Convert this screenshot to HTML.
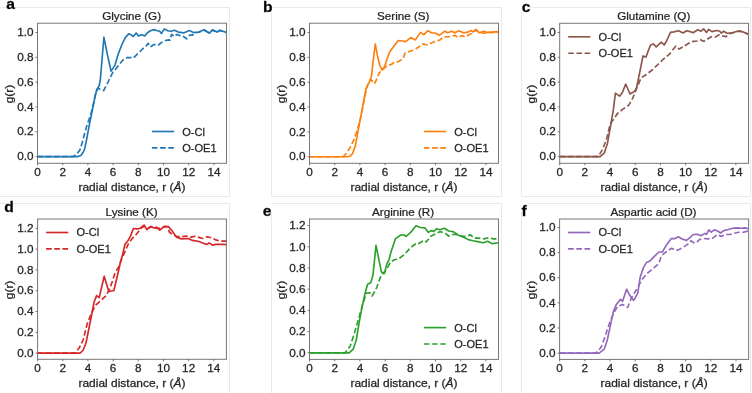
<!DOCTYPE html><html><head><meta charset="utf-8"><style>html,body{margin:0;padding:0;background:#fff;width:752px;height:393px;overflow:hidden}svg{display:block;filter:blur(0.45px)}text{font-family:"Liberation Sans",sans-serif;fill:#262626;stroke:#262626;stroke-width:0.25px}</style></head><body>
<svg width="752" height="393" viewBox="0 0 752 393">
<g fill="none" stroke="#e9e9e9" stroke-width="1">
<path d="M0 7.5H229.5V196.5H0"/>
<path d="M271.5 12V196.5H501.5V7.5H271.5"/>
<path d="M521.5 12V196.5H750.5V7.5H530.5"/>
<path d="M0 203.5H229.5V393"/>
<path d="M271.5 212V393M271.5 203.5H501.5V393"/>
<path d="M521.5 212V393M527.5 203.5H750.5V393"/>
</g>
<g><polyline fill="none" stroke="#1f77b4" stroke-width="1.65" stroke-linejoin="round" points="37.5,156.6 78,156.6 80.9,155.5 83,152.5 84.6,149.2 86.4,140.6 88.2,130.8 90.1,121 91.9,112.4 93.6,104 95.2,96 96.8,89.5 99.1,86 100.3,80 103.9,37.2 107.5,55.1 111,71.1 115,65.1 118.4,53.6 121.9,44.5 125.3,37.6 128.7,33.9 131,34.7 133.3,36.5 136.2,33 138.5,35.9 141.3,34.7 144.8,35.9 147.1,33 150.5,30.7 153.9,29.6 157.4,30.7 159.7,31.3 161.4,33.6 164.2,29 167.7,30.7 171.1,31.3 174.5,30.2 178.3,32.1 183.6,32.9 189.3,30.6 193.5,32.5 198.8,32.1 204.1,29.8 209.4,33.2 212.5,29.8 217,32.1 220,30.2 226.5,32.5"/><polyline fill="none" stroke="#1f77b4" stroke-width="1.65" stroke-dasharray="5.6 2.6" stroke-linejoin="round" points="37.5,156.6 73,156.6 76,154.7 79.7,150.4 82.1,143 84,135.7 86.4,127.1 88.9,119.8 91.3,112.4 93.3,104 95.2,95 97.9,88.3 100.5,89.5 103.7,90.6 108.3,81.5 112.8,72.3 115,70 119.6,63.9 123.6,59.4 127.6,57.6 130.5,57.5 133.3,58.2 137.3,54.2 142.5,49 145.9,46.2 148.2,43.3 150.5,46.8 153.9,44.5 158.5,45 162,42.2 165.4,40.5 168.8,39.9 170,40.1 171.5,34.4 174.5,36.6 176.8,34.4 180.6,35.9 182.9,35.9 186.7,38.9 189.7,35.1 192.7,35.1 194.3,32.9 198.8,32.3 204.1,30.2 209.4,32.8 212.5,30.2 217,32.1 220,30.5 226.5,32.5"/><rect x="37.5" y="23.2" width="189" height="140.1" fill="none" stroke="#777" stroke-width="1"/><path d="M37.5 163.3v2M62.7 163.3v2M87.9 163.3v2M113.1 163.3v2M138.3 163.3v2M163.5 163.3v2M188.7 163.3v2M213.9 163.3v2M37.5 156.6h-2M37.5 131.78h-2M37.5 106.96h-2M37.5 82.14h-2M37.5 57.32h-2M37.5 32.5h-2" stroke="#555" stroke-width="0.8" fill="none"/><text transform="translate(37.5 175.6) scale(1.13 1)" font-size="10.4" text-anchor="middle">0</text><text transform="translate(62.7 175.6) scale(1.13 1)" font-size="10.4" text-anchor="middle">2</text><text transform="translate(87.9 175.6) scale(1.13 1)" font-size="10.4" text-anchor="middle">4</text><text transform="translate(113.1 175.6) scale(1.13 1)" font-size="10.4" text-anchor="middle">6</text><text transform="translate(138.3 175.6) scale(1.13 1)" font-size="10.4" text-anchor="middle">8</text><text transform="translate(163.5 175.6) scale(1.13 1)" font-size="10.4" text-anchor="middle">10</text><text transform="translate(188.7 175.6) scale(1.13 1)" font-size="10.4" text-anchor="middle">12</text><text transform="translate(213.9 175.6) scale(1.13 1)" font-size="10.4" text-anchor="middle">14</text><text transform="translate(33.5 160.3) scale(1.13 1)" font-size="10.4" text-anchor="end">0.0</text><text transform="translate(33.5 135.48) scale(1.13 1)" font-size="10.4" text-anchor="end">0.2</text><text transform="translate(33.5 110.66) scale(1.13 1)" font-size="10.4" text-anchor="end">0.4</text><text transform="translate(33.5 85.84) scale(1.13 1)" font-size="10.4" text-anchor="end">0.6</text><text transform="translate(33.5 61.02) scale(1.13 1)" font-size="10.4" text-anchor="end">0.8</text><text transform="translate(33.5 36.2) scale(1.13 1)" font-size="10.4" text-anchor="end">1.0</text><text transform="translate(131.6 20.1) scale(1.1 1)" font-size="10.6" text-anchor="middle">Glycine (G)</text><text transform="translate(132 190.7) scale(1.13 1)" font-size="10.6" text-anchor="middle">radial distance, r (<tspan font-style="italic">Å</tspan>)</text><text transform="translate(13 94.05) rotate(-90) scale(1.13 1)" font-size="10.6" text-anchor="middle">g(r)</text><text transform="translate(6.2 8.6) scale(1.08 1)" font-size="14.5" font-weight="bold" style="fill:#000">a</text><path d="M151.9 131.5h22.2" stroke="#1f77b4" stroke-width="1.65"/><path d="M151.9 147.9h22.2" stroke="#1f77b4" stroke-width="1.65" stroke-dasharray="5.6 2.6"/><text transform="translate(182.3 135.8) scale(1.04 1)" font-size="10.6" text-anchor="start">O-Cl</text><text transform="translate(182.3 152.3) scale(1.04 1)" font-size="10.6" text-anchor="start">O-OE1</text></g>
<g><polyline fill="none" stroke="#ff7f0e" stroke-width="1.65" stroke-linejoin="round" points="309.5,156.7 347,156.7 350,156.2 352.4,153.8 355.2,146.4 357.9,131.8 360.7,117.1 363.4,102.5 366.1,88.4 369.2,82.3 371.5,76.2 373,62.4 375.3,44.1 377.6,56.3 379.8,65.5 382.1,70.1 384.4,67 387.5,57.8 389.8,51.7 392,48.7 394,46 398.2,40.5 402.2,41 405.6,41.6 410.8,37.6 415.3,39.9 420.5,32.4 423.9,34.7 427.9,30.7 431.9,33 435.4,33 439.4,35.3 444.7,31.2 447.8,32.8 451.8,31.2 454.9,32.8 458.8,30.8 463.5,32.8 466.7,32.4 471.4,30.5 472.9,32 476.1,29.3 479.2,32.8 483.9,31.2 487.1,32.4 491,32.4 496.5,31.6 498.5,32.2"/><polyline fill="none" stroke="#ff7f0e" stroke-width="1.65" stroke-dasharray="5.6 2.6" stroke-linejoin="round" points="309.5,156.7 343,156.7 346,153.8 349.7,148.3 354.2,139.1 357.9,128.1 361.6,113.5 364.3,99.7 366.1,90.6 367.6,85.3 370.7,79.2 374.5,83.8 376,80.7 379.1,73.1 382.1,70.1 386.7,66.2 392,64 394.2,62.2 398.7,61.6 403.3,58.2 405,53.1 410.2,51.3 414.8,49.6 418.2,47.3 422.8,43.9 427.4,45 431.9,42.7 436.5,41 440,39.9 443.1,37.1 446.3,36.7 451,36.7 454.9,35.2 458,37.5 462,35.5 465.1,37.1 469,34.8 472.2,33.2 475.3,30.1 477.6,31.6 480.8,32.8 484.7,33.2 488.6,32.4 498.5,32.4"/><rect x="309.5" y="23.2" width="189" height="140.1" fill="none" stroke="#777" stroke-width="1"/><path d="M309.5 163.3v2M334.7 163.3v2M359.9 163.3v2M385.1 163.3v2M410.3 163.3v2M435.5 163.3v2M460.7 163.3v2M485.9 163.3v2M309.5 156.7h-2M309.5 131.88h-2M309.5 107.06h-2M309.5 82.24h-2M309.5 57.42h-2M309.5 32.6h-2" stroke="#555" stroke-width="0.8" fill="none"/><text transform="translate(309.5 175.6) scale(1.13 1)" font-size="10.4" text-anchor="middle">0</text><text transform="translate(334.7 175.6) scale(1.13 1)" font-size="10.4" text-anchor="middle">2</text><text transform="translate(359.9 175.6) scale(1.13 1)" font-size="10.4" text-anchor="middle">4</text><text transform="translate(385.1 175.6) scale(1.13 1)" font-size="10.4" text-anchor="middle">6</text><text transform="translate(410.3 175.6) scale(1.13 1)" font-size="10.4" text-anchor="middle">8</text><text transform="translate(435.5 175.6) scale(1.13 1)" font-size="10.4" text-anchor="middle">10</text><text transform="translate(460.7 175.6) scale(1.13 1)" font-size="10.4" text-anchor="middle">12</text><text transform="translate(485.9 175.6) scale(1.13 1)" font-size="10.4" text-anchor="middle">14</text><text transform="translate(305.5 160.4) scale(1.13 1)" font-size="10.4" text-anchor="end">0.0</text><text transform="translate(305.5 135.58) scale(1.13 1)" font-size="10.4" text-anchor="end">0.2</text><text transform="translate(305.5 110.76) scale(1.13 1)" font-size="10.4" text-anchor="end">0.4</text><text transform="translate(305.5 85.94) scale(1.13 1)" font-size="10.4" text-anchor="end">0.6</text><text transform="translate(305.5 61.12) scale(1.13 1)" font-size="10.4" text-anchor="end">0.8</text><text transform="translate(305.5 36.3) scale(1.13 1)" font-size="10.4" text-anchor="end">1.0</text><text transform="translate(403.3 20.3) scale(1.1 1)" font-size="10.6" text-anchor="middle">Serine (S)</text><text transform="translate(404 190.7) scale(1.13 1)" font-size="10.6" text-anchor="middle">radial distance, r (<tspan font-style="italic">Å</tspan>)</text><text transform="translate(285 94.05) rotate(-90) scale(1.13 1)" font-size="10.6" text-anchor="middle">g(r)</text><text transform="translate(263 12.1) scale(1.08 1)" font-size="14.5" font-weight="bold" style="fill:#000">b</text><path d="M423.9 131.5h22.2" stroke="#ff7f0e" stroke-width="1.65"/><path d="M423.9 147.9h22.2" stroke="#ff7f0e" stroke-width="1.65" stroke-dasharray="5.6 2.6"/><text transform="translate(454.3 135.8) scale(1.04 1)" font-size="10.6" text-anchor="start">O-Cl</text><text transform="translate(454.3 152.3) scale(1.04 1)" font-size="10.6" text-anchor="start">O-OE1</text></g>
<g><polyline fill="none" stroke="#8c564b" stroke-width="1.65" stroke-linejoin="round" points="559.7,156.6 600.2,156.6 604.2,153.2 607.3,144 610.3,127.7 613.4,109.4 615.4,93.2 619.5,96.2 622.5,92.2 625.7,84 630,94 634.7,91.1 636.5,88 640.2,70 643,55.9 645.9,57.1 650.5,45 653.3,43.9 656.2,46.8 661.3,42.2 664.2,45 666.5,41 670.5,32.4 673.9,31.9 678.5,30.7 683.1,33 686.5,30.7 690,31.6 693.1,32.8 697.8,29.7 701,31.2 703.7,28.9 706.5,32.4 708.8,29.3 712,31.6 716.7,30.5 719.8,31.2 721.4,33.2 723.7,31.2 726.9,33.2 732.4,32.8 734.7,32 739.4,30.8 743.3,32 748.5,34.4"/><polyline fill="none" stroke="#8c564b" stroke-width="1.65" stroke-dasharray="5.6 2.6" stroke-linejoin="round" points="559.7,156.6 598.1,156.6 602.2,150.1 606.3,140 610.3,123.7 613.4,119.6 617.5,113.5 622.5,109.4 628.6,105.4 632.7,98.3 635.7,90.7 641,78 646,74.7 652.2,70 657.9,64.5 663.1,59.4 669.4,54.2 675.7,46.2 679.1,49 684.2,46.2 688.8,43.3 692.3,41.6 693.9,41.4 697.1,41 701,39.9 704.1,41.4 708,38.7 711.2,36.7 715.1,37.1 719,34.8 722.9,35.9 726.1,36.7 728.4,34.4 730.8,33.2 734.7,32.4 739.4,31.2 743.3,32.2 748.5,34"/><rect x="559.7" y="23.3" width="188.8" height="140" fill="none" stroke="#777" stroke-width="1"/><path d="M559.7 163.3v2M584.87 163.3v2M610.05 163.3v2M635.22 163.3v2M660.39 163.3v2M685.57 163.3v2M710.74 163.3v2M735.91 163.3v2M559.7 156.6h-2M559.7 131.78h-2M559.7 106.96h-2M559.7 82.14h-2M559.7 57.32h-2M559.7 32.5h-2" stroke="#555" stroke-width="0.8" fill="none"/><text transform="translate(559.7 175.6) scale(1.13 1)" font-size="10.4" text-anchor="middle">0</text><text transform="translate(584.87 175.6) scale(1.13 1)" font-size="10.4" text-anchor="middle">2</text><text transform="translate(610.05 175.6) scale(1.13 1)" font-size="10.4" text-anchor="middle">4</text><text transform="translate(635.22 175.6) scale(1.13 1)" font-size="10.4" text-anchor="middle">6</text><text transform="translate(660.39 175.6) scale(1.13 1)" font-size="10.4" text-anchor="middle">8</text><text transform="translate(685.57 175.6) scale(1.13 1)" font-size="10.4" text-anchor="middle">10</text><text transform="translate(710.74 175.6) scale(1.13 1)" font-size="10.4" text-anchor="middle">12</text><text transform="translate(735.91 175.6) scale(1.13 1)" font-size="10.4" text-anchor="middle">14</text><text transform="translate(555.7 160.3) scale(1.13 1)" font-size="10.4" text-anchor="end">0.0</text><text transform="translate(555.7 135.48) scale(1.13 1)" font-size="10.4" text-anchor="end">0.2</text><text transform="translate(555.7 110.66) scale(1.13 1)" font-size="10.4" text-anchor="end">0.4</text><text transform="translate(555.7 85.84) scale(1.13 1)" font-size="10.4" text-anchor="end">0.6</text><text transform="translate(555.7 61.02) scale(1.13 1)" font-size="10.4" text-anchor="end">0.8</text><text transform="translate(555.7 36.2) scale(1.13 1)" font-size="10.4" text-anchor="end">1.0</text><text transform="translate(653.7 20.1) scale(1.1 1)" font-size="10.6" text-anchor="middle">Glutamine (Q)</text><text transform="translate(654.1 190.7) scale(1.13 1)" font-size="10.6" text-anchor="middle">radial distance, r (<tspan font-style="italic">Å</tspan>)</text><text transform="translate(535.2 94.1) rotate(-90) scale(1.13 1)" font-size="10.6" text-anchor="middle">g(r)</text><text transform="translate(521.7 12.2) scale(1.08 1)" font-size="14.5" font-weight="bold" style="fill:#000">c</text><path d="M568.2 36.8h22.2" stroke="#8c564b" stroke-width="1.65"/><path d="M568.2 53.2h22.2" stroke="#8c564b" stroke-width="1.65" stroke-dasharray="5.6 2.6"/><text transform="translate(598.6 40.7) scale(1.04 1)" font-size="10.6" text-anchor="start">O-Cl</text><text transform="translate(598.6 57.2) scale(1.04 1)" font-size="10.6" text-anchor="start">O-OE1</text></g>
<g><polyline fill="none" stroke="#d62728" stroke-width="1.65" stroke-linejoin="round" points="37.6,353.1 80,353.1 83,350.5 86,343 89,328 92,313 94.1,302 96.6,295.6 99.2,297.6 104.2,276.2 108.8,291.5 113.9,290.5 117.5,275.2 120.5,262 122.6,254.6 125,244.2 128.1,240.4 130.3,236.6 133.4,228.5 137.2,228.9 140.3,228.2 144.1,225.1 146.8,229.7 150.2,226.6 153.6,227.8 157.1,227.4 159.8,230.1 163.2,227.4 165.1,226.3 168.5,226.6 172.4,231.2 176.4,237.1 181.5,238.9 188.1,238.5 192.5,240.4 199.1,241.5 202.7,242.9 206.4,244.4 209.3,242.9 212.2,245.1 215.9,244.4 219.5,244.4 224.7,244.4 226.4,245.1"/><polyline fill="none" stroke="#d62728" stroke-width="1.65" stroke-dasharray="5.6 2.6" stroke-linejoin="round" points="37.6,353.1 75,353.1 79.1,348.1 83.1,340 87.2,323.7 91.3,313.6 95.3,305.4 100.2,301.2 106.3,295.6 109.8,288.5 112.4,281.3 114.9,273.2 118.5,267.1 120.5,262 123.5,255 126.5,248 128.8,243 132.6,238.1 135.7,235 138.8,231.2 141.8,227.4 144.9,226.3 147.9,228.5 151.7,226.6 155.6,228.2 159.4,228.5 164,226.6 167.8,227 169.3,232 172.4,234.5 176.4,236.3 181.5,236.7 186.6,236 190.3,237.4 194.7,236.3 199.1,237.4 202.7,238.5 207.1,236.7 211.5,237.8 215.2,239.6 219.5,241.1 226.4,241.1"/><rect x="37.6" y="219" width="188.8" height="140.3" fill="none" stroke="#777" stroke-width="1"/><path d="M37.6 359.3v2M62.77 359.3v2M87.95 359.3v2M113.12 359.3v2M138.29 359.3v2M163.47 359.3v2M188.64 359.3v2M213.81 359.3v2M37.6 353.1h-2M37.6 332.3h-2M37.6 311.5h-2M37.6 290.7h-2M37.6 269.9h-2M37.6 249.1h-2M37.6 228.3h-2" stroke="#555" stroke-width="0.8" fill="none"/><text transform="translate(37.6 371.6) scale(1.13 1)" font-size="10.4" text-anchor="middle">0</text><text transform="translate(62.77 371.6) scale(1.13 1)" font-size="10.4" text-anchor="middle">2</text><text transform="translate(87.95 371.6) scale(1.13 1)" font-size="10.4" text-anchor="middle">4</text><text transform="translate(113.12 371.6) scale(1.13 1)" font-size="10.4" text-anchor="middle">6</text><text transform="translate(138.29 371.6) scale(1.13 1)" font-size="10.4" text-anchor="middle">8</text><text transform="translate(163.47 371.6) scale(1.13 1)" font-size="10.4" text-anchor="middle">10</text><text transform="translate(188.64 371.6) scale(1.13 1)" font-size="10.4" text-anchor="middle">12</text><text transform="translate(213.81 371.6) scale(1.13 1)" font-size="10.4" text-anchor="middle">14</text><text transform="translate(33.6 356.8) scale(1.13 1)" font-size="10.4" text-anchor="end">0.0</text><text transform="translate(33.6 336) scale(1.13 1)" font-size="10.4" text-anchor="end">0.2</text><text transform="translate(33.6 315.2) scale(1.13 1)" font-size="10.4" text-anchor="end">0.4</text><text transform="translate(33.6 294.4) scale(1.13 1)" font-size="10.4" text-anchor="end">0.6</text><text transform="translate(33.6 273.6) scale(1.13 1)" font-size="10.4" text-anchor="end">0.8</text><text transform="translate(33.6 252.8) scale(1.13 1)" font-size="10.4" text-anchor="end">1.0</text><text transform="translate(33.6 232) scale(1.13 1)" font-size="10.4" text-anchor="end">1.2</text><text transform="translate(131.6 216.1) scale(1.1 1)" font-size="10.6" text-anchor="middle">Lysine (K)</text><text transform="translate(132 386.7) scale(1.13 1)" font-size="10.6" text-anchor="middle">radial distance, r (<tspan font-style="italic">Å</tspan>)</text><text transform="translate(13.1 289.95) rotate(-90) scale(1.13 1)" font-size="10.6" text-anchor="middle">g(r)</text><text transform="translate(4.3 212.3) scale(1.08 1)" font-size="14.5" font-weight="bold" style="fill:#000">d</text><path d="M46.1 232.5h22.2" stroke="#d62728" stroke-width="1.65"/><path d="M46.1 248.9h22.2" stroke="#d62728" stroke-width="1.65" stroke-dasharray="5.6 2.6"/><text transform="translate(76.5 236.4) scale(1.04 1)" font-size="10.6" text-anchor="start">O-Cl</text><text transform="translate(76.5 252.9) scale(1.04 1)" font-size="10.6" text-anchor="start">O-OE1</text></g>
<g><polyline fill="none" stroke="#2ca02c" stroke-width="1.65" stroke-linejoin="round" points="309.5,352.8 349.2,352.8 353.2,349.2 356.3,340 359.3,321.7 362.4,305.4 365.4,292 367.6,284.3 370.7,282.7 373,275.1 376,245.3 381.4,272.1 384.4,273.6 386.7,264.4 389,259.8 391,252 395.5,238.6 400.8,235 404.4,235 406.2,236.5 410.6,232.4 416,225.8 420.4,227.5 424.9,227.9 428.5,232.4 431.1,230.6 433.8,231.5 436.5,228.8 440,229.8 444.3,228.3 448.6,231 453.3,231.8 458,234.9 463.5,237.3 468.2,239.6 472.9,240.8 477.6,241.6 483.1,242.8 487.8,241.2 491.8,243.6 498.5,242.8"/><polyline fill="none" stroke="#2ca02c" stroke-width="1.65" stroke-dasharray="5.6 2.6" stroke-linejoin="round" points="309.5,352.8 345.1,352.8 350.2,346.1 354.2,333.9 358.3,319.7 362.4,305.4 366.4,293 369.9,292.7 372.2,296 376.8,287.3 380.6,276.6 383.7,272.8 386.7,269 390.5,262.1 394.4,259.8 398.2,259.1 404.4,254.6 410.6,247.5 416.9,243 419,243.5 423.9,240.2 426.2,241.9 430.8,236.2 435.4,233.9 438.8,232.2 440,231.8 444.7,232.6 448.6,236.1 451.8,234.5 456.5,234.5 460.4,235.7 465.1,236.5 470.6,234.9 473.7,238.1 478.4,238.1 483.9,238.9 488.6,237.7 493.3,238.9 498.5,238.9"/><rect x="309.5" y="219" width="189" height="140.4" fill="none" stroke="#777" stroke-width="1"/><path d="M309.5 359.4v2M334.7 359.4v2M359.9 359.4v2M385.1 359.4v2M410.3 359.4v2M435.5 359.4v2M460.7 359.4v2M485.9 359.4v2M309.5 352.8h-2M309.5 331.6h-2M309.5 310.4h-2M309.5 289.2h-2M309.5 268h-2M309.5 246.8h-2M309.5 225.6h-2" stroke="#555" stroke-width="0.8" fill="none"/><text transform="translate(309.5 371.7) scale(1.13 1)" font-size="10.4" text-anchor="middle">0</text><text transform="translate(334.7 371.7) scale(1.13 1)" font-size="10.4" text-anchor="middle">2</text><text transform="translate(359.9 371.7) scale(1.13 1)" font-size="10.4" text-anchor="middle">4</text><text transform="translate(385.1 371.7) scale(1.13 1)" font-size="10.4" text-anchor="middle">6</text><text transform="translate(410.3 371.7) scale(1.13 1)" font-size="10.4" text-anchor="middle">8</text><text transform="translate(435.5 371.7) scale(1.13 1)" font-size="10.4" text-anchor="middle">10</text><text transform="translate(460.7 371.7) scale(1.13 1)" font-size="10.4" text-anchor="middle">12</text><text transform="translate(485.9 371.7) scale(1.13 1)" font-size="10.4" text-anchor="middle">14</text><text transform="translate(305.5 356.5) scale(1.13 1)" font-size="10.4" text-anchor="end">0.0</text><text transform="translate(305.5 335.3) scale(1.13 1)" font-size="10.4" text-anchor="end">0.2</text><text transform="translate(305.5 314.1) scale(1.13 1)" font-size="10.4" text-anchor="end">0.4</text><text transform="translate(305.5 292.9) scale(1.13 1)" font-size="10.4" text-anchor="end">0.6</text><text transform="translate(305.5 271.7) scale(1.13 1)" font-size="10.4" text-anchor="end">0.8</text><text transform="translate(305.5 250.5) scale(1.13 1)" font-size="10.4" text-anchor="end">1.0</text><text transform="translate(305.5 229.3) scale(1.13 1)" font-size="10.4" text-anchor="end">1.2</text><text transform="translate(403.1 216.3) scale(1.1 1)" font-size="10.6" text-anchor="middle">Arginine (R)</text><text transform="translate(404 386.8) scale(1.13 1)" font-size="10.6" text-anchor="middle">radial distance, r (<tspan font-style="italic">Å</tspan>)</text><text transform="translate(285 290) rotate(-90) scale(1.13 1)" font-size="10.6" text-anchor="middle">g(r)</text><text transform="translate(262.8 216.3) scale(1.08 1)" font-size="14.5" font-weight="bold" style="fill:#000">e</text><path d="M423.9 327.6h22.2" stroke="#2ca02c" stroke-width="1.65"/><path d="M423.9 344h22.2" stroke="#2ca02c" stroke-width="1.65" stroke-dasharray="5.6 2.6"/><text transform="translate(454.3 331.9) scale(1.04 1)" font-size="10.6" text-anchor="start">O-Cl</text><text transform="translate(454.3 348.4) scale(1.04 1)" font-size="10.6" text-anchor="start">O-OE1</text></g>
<g><polyline fill="none" stroke="#9467bd" stroke-width="1.65" stroke-linejoin="round" points="559.6,353.1 599.2,353.1 604.2,349.2 607.3,340 610.3,325.8 613.4,311.5 616.4,304.4 620.5,299.3 622.5,301.4 626.6,289.2 629.7,295.3 633.7,300.4 637.8,293.2 640.2,277 643.7,267.1 646.4,262.6 650,260.9 654.4,256.4 658.9,252 662.4,252 666,245.7 671.3,238.6 674.9,238.6 678.5,236.8 682,239 686.5,240.4 690,237.7 693.1,234.5 697.1,234.2 701,235.7 704.9,233.4 706.5,234.5 708.8,229.8 711.2,232.2 714.3,229.8 717.5,231 720.6,233 723.7,230.6 728.4,229.5 732.4,228.3 737.1,227.9 741.8,228.3 744.9,227.9 748.6,228.7"/><polyline fill="none" stroke="#9467bd" stroke-width="1.65" stroke-dasharray="5.6 2.6" stroke-linejoin="round" points="559.6,353.1 596.1,353.1 601.2,347.1 605.3,336 609.3,323.7 613.4,313.6 617.5,306.5 622.5,304.4 627.6,307.5 631.7,297.3 636.8,289.2 641.9,279.6 647.3,273.3 652.6,268.9 658.9,263.5 661.5,255.5 666,252 671.3,248.4 677.6,250.2 682.9,247.5 688.2,243.9 690.8,240.8 693.9,242.8 696.3,242.8 699.4,239.6 703.3,238.5 708,238.9 712.7,238.1 717.5,234.5 721.4,236.5 725.3,234.5 730,234.5 733.9,233.4 738.6,232.2 743.3,232.2 748.6,231"/><rect x="559.6" y="219" width="189" height="140.4" fill="none" stroke="#777" stroke-width="1"/><path d="M559.6 359.4v2M584.8 359.4v2M610 359.4v2M635.2 359.4v2M660.4 359.4v2M685.6 359.4v2M710.8 359.4v2M736 359.4v2M559.6 353.1h-2M559.6 327.98h-2M559.6 302.86h-2M559.6 277.74h-2M559.6 252.62h-2M559.6 227.5h-2" stroke="#555" stroke-width="0.8" fill="none"/><text transform="translate(559.6 371.7) scale(1.13 1)" font-size="10.4" text-anchor="middle">0</text><text transform="translate(584.8 371.7) scale(1.13 1)" font-size="10.4" text-anchor="middle">2</text><text transform="translate(610 371.7) scale(1.13 1)" font-size="10.4" text-anchor="middle">4</text><text transform="translate(635.2 371.7) scale(1.13 1)" font-size="10.4" text-anchor="middle">6</text><text transform="translate(660.4 371.7) scale(1.13 1)" font-size="10.4" text-anchor="middle">8</text><text transform="translate(685.6 371.7) scale(1.13 1)" font-size="10.4" text-anchor="middle">10</text><text transform="translate(710.8 371.7) scale(1.13 1)" font-size="10.4" text-anchor="middle">12</text><text transform="translate(736 371.7) scale(1.13 1)" font-size="10.4" text-anchor="middle">14</text><text transform="translate(555.6 356.8) scale(1.13 1)" font-size="10.4" text-anchor="end">0.0</text><text transform="translate(555.6 331.68) scale(1.13 1)" font-size="10.4" text-anchor="end">0.2</text><text transform="translate(555.6 306.56) scale(1.13 1)" font-size="10.4" text-anchor="end">0.4</text><text transform="translate(555.6 281.44) scale(1.13 1)" font-size="10.4" text-anchor="end">0.6</text><text transform="translate(555.6 256.32) scale(1.13 1)" font-size="10.4" text-anchor="end">0.8</text><text transform="translate(555.6 231.2) scale(1.13 1)" font-size="10.4" text-anchor="end">1.0</text><text transform="translate(653.4 216.1) scale(1.1 1)" font-size="10.6" text-anchor="middle">Aspartic acid (D)</text><text transform="translate(654.1 386.8) scale(1.13 1)" font-size="10.6" text-anchor="middle">radial distance, r (<tspan font-style="italic">Å</tspan>)</text><text transform="translate(535.1 290) rotate(-90) scale(1.13 1)" font-size="10.6" text-anchor="middle">g(r)</text><text transform="translate(521.6 215.8) scale(1.08 1)" font-size="14.5" font-weight="bold" style="fill:#000">f</text><path d="M568.1 232.5h22.2" stroke="#9467bd" stroke-width="1.65"/><path d="M568.1 248.9h22.2" stroke="#9467bd" stroke-width="1.65" stroke-dasharray="5.6 2.6"/><text transform="translate(598.5 236.4) scale(1.04 1)" font-size="10.6" text-anchor="start">O-Cl</text><text transform="translate(598.5 252.9) scale(1.04 1)" font-size="10.6" text-anchor="start">O-OE1</text></g>
</svg></body></html>
